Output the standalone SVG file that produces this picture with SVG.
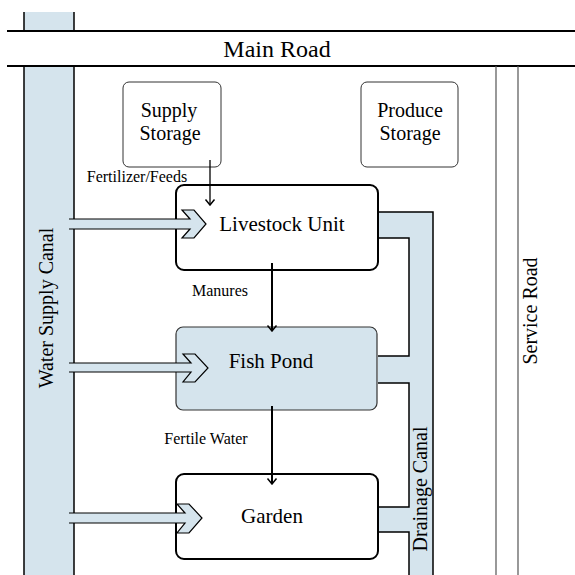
<svg xmlns="http://www.w3.org/2000/svg" width="575" height="575" viewBox="0 0 575 575">
<style>
.water{fill:#d5e4ed}
.ln{fill:none;stroke:#000;stroke-width:1.5}
.road{fill:none;stroke:#000;stroke-width:2}
.srv{fill:none;stroke:#555;stroke-width:1.2}
text{font-family:'Liberation Serif','DejaVu Serif','Times New Roman',serif;fill:#000}
.lbl{font-size:16px}
.box1{fill:#fff;stroke:#333;stroke-width:1}
.box2{fill:#fff;stroke:#000;stroke-width:2}
.pond{fill:#d5e4ed;stroke:#333;stroke-width:1.2}
.inlet{fill:#d5e4ed;stroke:#000;stroke-width:1.2;stroke-linejoin:miter}
.flow{fill:none;stroke:#000;stroke-width:2;marker-end:url(#tip)}
.flow1{fill:none;stroke:#000;stroke-width:1.3;marker-end:url(#tip)}
</style>
<defs>
<marker id="tip" markerUnits="userSpaceOnUse" viewBox="-7 -6 8 12" refX="0" refY="0" markerWidth="8" markerHeight="12" orient="auto">
<path d="M-5.5,-4.5 Q-1.5,-1.2 0,0 Q-1.5,1.2 -5.5,4.5" fill="none" stroke="#000" stroke-width="1.5"/>
</marker>
</defs>
<rect width="575" height="575" fill="#fff"/>

<g id="water-supply-canal">
<rect class="water" x="24" y="12" width="50" height="19"/>
<rect class="water" x="24" y="66" width="50" height="509"/>
<path class="ln" d="M24,12 V31 M74,12 V31 M24,66 V575 M74,66 V575"/>
<text font-family="Liberation Serif, serif" font-size="20" text-anchor="middle" transform="translate(53,308) rotate(-90)">Water Supply Canal</text>
</g>

<g id="main-road">
<path class="road" d="M7,31 H575 M7,66 H575"/>
<text font-family="Liberation Serif, serif" font-size="24" x="277" y="57" text-anchor="middle">Main Road</text>
</g>

<g id="service-road">
<path class="srv" d="M496,66 V575 M518,66 V575"/>
<text font-family="Liberation Serif, serif" font-size="20" text-anchor="middle" transform="translate(537,311) rotate(-90)">Service Road</text>
</g>

<g id="drainage-canal">
<path class="water" d="M378,212 H433 V575 H409 V532 H378 V507 H409 V383 H378 V356 H409 V238 H378 Z"/>
<path class="ln" d="M378,212 H433 V575 M378,238 H409 V356 H378 M378,383 H409 V507 H378 M378,532 H409 V575"/>
<text font-family="Liberation Serif, serif" font-size="20" text-anchor="middle" transform="translate(427,489) rotate(-90)">Drainage Canal</text>
</g>

<g id="supply-storage">
<rect class="box1" x="123" y="82" width="98" height="85" rx="6"/>
<text font-family="Liberation Serif, serif" font-size="20" x="169" y="117" text-anchor="middle">Supply</text>
<text font-family="Liberation Serif, serif" font-size="20" x="170" y="140" text-anchor="middle">Storage</text>
</g>

<g id="produce-storage">
<rect class="box1" x="361" y="82" width="97" height="85" rx="6"/>
<text font-family="Liberation Serif, serif" font-size="20" x="410" y="117" text-anchor="middle">Produce</text>
<text font-family="Liberation Serif, serif" font-size="20" x="410" y="140" text-anchor="middle">Storage</text>
</g>

<g id="livestock-unit">
<rect class="box2" x="176" y="185" width="202" height="85" rx="8"/>
<text font-family="Liberation Serif, serif" font-size="21" x="282" y="231" text-anchor="middle">Livestock Unit</text>
</g>

<g id="fish-pond">
<rect class="pond" x="176" y="327" width="201" height="83" rx="7"/>
<text font-family="Liberation Serif, serif" font-size="21" x="271" y="368" text-anchor="middle">Fish Pond</text>
</g>

<g id="garden">
<rect class="box2" x="176" y="474" width="202" height="85" rx="8"/>
<text font-family="Liberation Serif, serif" font-size="21" x="272" y="523" text-anchor="middle">Garden</text>
</g>

<g id="connectors">
<path class="inlet" d="M69,219 H190 L182,210 H194 L206,224 L194,238 H182 L190,229 H69"/>
<path class="inlet" d="M69,363 H191 L183,354 H195 L208,368 L195,382 H183 L191,372 H69"/>
<path class="inlet" d="M69,513 H185 L177,504 H189 L202,518 L189,533 H177 L185,523 H69"/>
<path class="flow1" d="M210,160 V205"/>
<path class="flow" d="M272,263 V331"/>
<path class="flow" d="M272,406 V484"/>
<text font-family="Liberation Serif, serif" class="lbl" x="137" y="182" text-anchor="middle">Fertilizer/Feeds</text>
<text font-family="Liberation Serif, serif" class="lbl" x="220" y="296" text-anchor="middle">Manures</text>
<text font-family="Liberation Serif, serif" class="lbl" x="206" y="444" text-anchor="middle">Fertile Water</text>
</g>
</svg>
